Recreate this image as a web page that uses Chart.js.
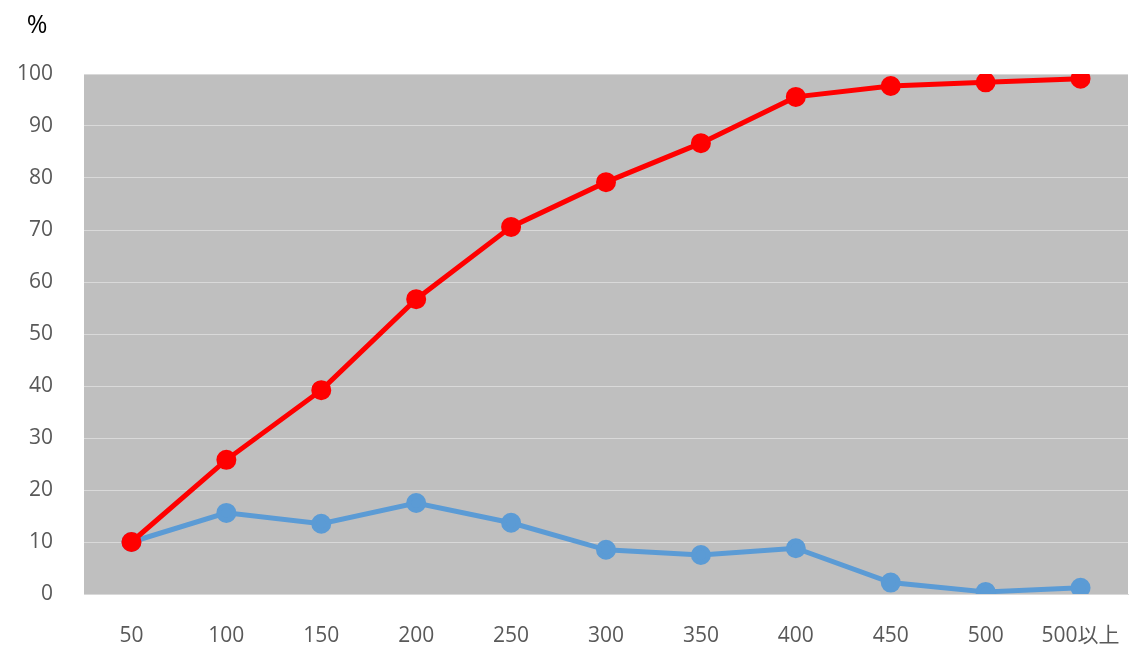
<!DOCTYPE html>
<html>
<head>
<meta charset="utf-8">
<script src="https://cdn.jsdelivr.net/npm/chart.js@4.4.1/dist/chart.umd.min.js"></script>
<style>
  html, body { margin: 0; padding: 0; background: #fff; overflow: hidden; }
  #wrap { width: 1133px; height: 655px; position: relative; }
</style>
</head>
<body>
<div id="wrap"><canvas id="lineChart"></canvas></div>
<script>
const categories = ["50", "100", "150", "200", "250", "300", "350", "400", "450", "500", "500以上"];
const redValues = [10, 25.8, 39.2, 56.7, 70.6, 79.2, 86.7, 95.6, 97.7, 98.4, 99.1];
const blueValues = [10, 15.6, 13.5, 17.5, 13.7, 8.5, 7.5, 8.8, 2.2, 0.4, 1.2];
const yTicks = [0, 10, 20, 30, 40, 50, 60, 70, 80, 90, 100];
const unitLabel = "%";

const plotBackground = {
    id: "plotBackground",
    beforeDraw(chart) {
        const { ctx, chartArea } = chart;
        ctx.save();
        ctx.fillStyle = "#bfbfbf";
        ctx.fillRect(chartArea.left, chartArea.top, chartArea.right - chartArea.left, chartArea.bottom - chartArea.top);
        ctx.restore();
    },
    afterDraw(chart) {
        const { ctx } = chart;
        ctx.save();
        ctx.fillStyle = "#000";
        ctx.font = "25px 'Open Sans', sans-serif";
        ctx.textAlign = "center";
        ctx.textBaseline = "middle";
        ctx.fillText(unitLabel, 37, 26);
        ctx.restore();
    }
};

const tickFont = { family: "'Open Sans', 'Noto Sans CJK JP', sans-serif", size: 21 };

new Chart(document.getElementById("lineChart"), {
    type: "line",
    data: {
        labels: categories,
        datasets: [
            {
                label: "red",
                data: redValues,
                borderColor: "#ff0000",
                backgroundColor: "#ff0000",
                borderWidth: 5,
                pointRadius: 7.5,
                pointHoverRadius: 7.5,
                tension: 0,
            },
            {
                label: "blue",
                data: blueValues,
                borderColor: "#5b9bd5",
                backgroundColor: "#5b9bd5",
                borderWidth: 5,
                pointRadius: 7.5,
                pointHoverRadius: 7.5,
                tension: 0,
            },
        ],
    },
    options: {
        responsive: true,
        maintainAspectRatio: false,
        animation: false,
        layout: { autoPadding: false, padding: { top: 74, right: 5, left: 0, bottom: 0 } },
        plugins: {
            legend: { display: false },
            tooltip: { enabled: false },
        },
        scales: {
            x: {
                offset: true,
                grid: { display: false, drawTicks: false },
                border: { display: true, color: "#d9d9d9", width: 1 },
                // tall line height pushes labels down without adding side padding
                ticks: { color: "#595959", font: { ...tickFont, lineHeight: 3.7 }, padding: 3, maxRotation: 0, autoSkip: false },
                afterFit(scale) { scale.height = 61; },
            },
            y: {
                min: 0,
                max: 100,
                afterBuildTicks(scale) { scale.ticks = yTicks.map(v => ({ value: v })); },
                grid: { color: "#d9d9d9", lineWidth: 1, drawTicks: false },
                border: { display: false },
                ticks: { color: "#595959", font: tickFont, padding: 31 },
                afterFit(scale) { scale.width = 84; },
            },
        },
    },
    plugins: [plotBackground],
});
</script>
</body>
</html>
